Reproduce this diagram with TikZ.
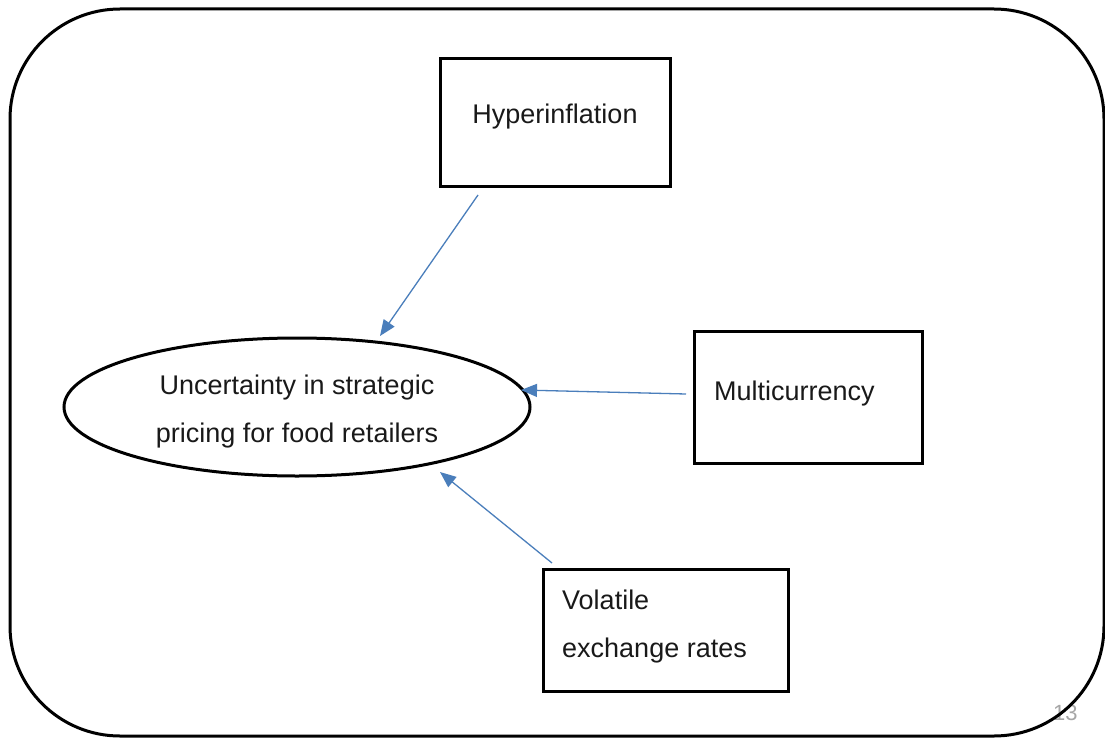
\documentclass[tikz,border=0pt]{standalone}
\usepackage{fontspec}
\setmainfont{Liberation Sans}
\usetikzlibrary{arrows.meta,shapes.geometric}
\definecolor{arrowblue}{HTML}{4A7EBB}
\definecolor{pagegrey}{HTML}{A6A6A6}
\begin{document}
\begin{tikzpicture}[x=1pt,y=-1pt,
  frame/.style={draw=black,line width=3pt,rounded corners=110pt},
  box/.style={draw=black,line width=3pt,inner sep=0pt},
  oval/.style={draw=black,ellipse,line width=3pt,inner sep=0pt},
  txt/.style={inner sep=0pt,font=\fontsize{27}{48}\selectfont,text=black!90},
  link/.style={draw=arrowblue,line width=1.3pt,-{Triangle[length=16pt,width=13pt]}}]
\useasboundingbox (0,0) rectangle (1105,738);
% page number (partly hidden by the frame)
\node[inner sep=0pt,anchor=base west,font=\fontsize{22}{26}\selectfont,text=pagegrey] (pg) at (1053,720) {13};
% outer frame
\draw[frame] (10,9) rectangle (1104,736);
% boxes
\node[box,minimum width=230pt,minimum height=128pt] (hyp) at (555,123) {};
\node[box,minimum width=228pt,minimum height=132pt] (mul) at (808,397) {};
\node[box,minimum width=245pt,minimum height=122pt] (vol) at (665.5,630) {};
\node[oval,minimum width=466pt,minimum height=138pt] (unc) at (297,407) {};
% texts
\node[txt,anchor=base] (thyp) at (555,124) {Hyperinflation};
\node[txt,anchor=base west] (tmul) at (714,400) {Multicurrency};
\node[txt,anchor=base west] (tvol1) at (562,609) {Volatile};
\node[txt,anchor=base west] (tvol2) at (562,657) {exchange rates};
\node[txt,anchor=base] (tunc1) at (297,394) {Uncertainty in strategic};
\node[txt,anchor=base] (tunc2) at (297,442) {pricing for food retailers};
% connector ends
\coordinate (s1) at (478,195);
\coordinate (e1) at (380,336);
\coordinate (s2) at (686,394);
\coordinate (e2) at (521,390);
\coordinate (s3) at (552,563);
\coordinate (e3) at (440,472);
\draw[link] (s1) -- (e1);
\draw[link] (s2) -- (e2);
\draw[link] (s3) -- (e3);
\end{tikzpicture}
\end{document}
